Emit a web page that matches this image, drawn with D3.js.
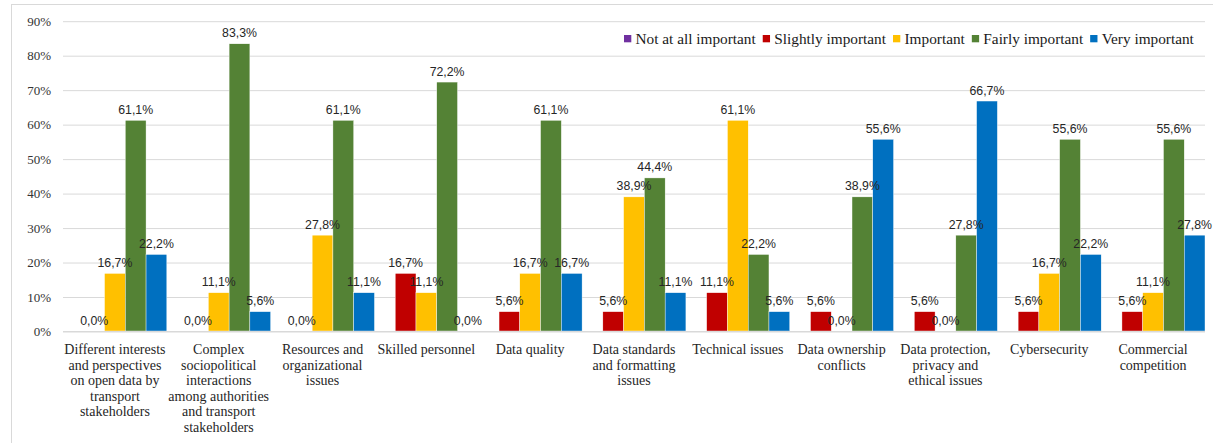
<!DOCTYPE html>
<html><head><meta charset="utf-8">
<script src="https://cdn.jsdelivr.net/npm/d3@7"></script>
<style>html,body{margin:0;padding:0;background:#fff;} svg{display:block;}</style>
</head><body>
<svg id="chart" width="1213" height="443"></svg>
<script>
const categories = [
  "Different interests\nand perspectives\non open data by\ntransport\nstakeholders",
  "Complex\nsociopolitical\ninteractions\namong authorities\nand transport\nstakeholders",
  "Resources and\norganizational\nissues",
  "Skilled personnel",
  "Data quality",
  "Data standards\nand formatting\nissues",
  "Technical issues",
  "Data ownership\nconflicts",
  "Data protection,\nprivacy and\nethical issues",
  "Cybersecurity",
  "Commercial\ncompetition"
];
const seriesNames = ["Not at all important","Slightly important","Important","Fairly important","Very important"];
const notAtAll   = [0,0,0,0,0,0,0,0,0,0,0];
const slightly   = [0,0,0,16.7,5.6,5.6,11.1,5.6,5.6,5.6,5.6];
const important  = [16.7,11.1,27.8,11.1,16.7,38.9,61.1,0,0,16.7,11.1];
const fairly     = [61.1,83.3,61.1,72.2,61.1,44.4,22.2,38.9,27.8,55.6,55.6];
const very       = [22.2,5.6,11.1,0,16.7,11.1,5.6,55.6,66.7,22.2,27.8];
const seriesValues = [notAtAll, slightly, important, fairly, very];
const seriesLabelled = [false, true, true, true, true];
const colors = ["#7030A0","#C00000","#FFC000","#548235","#0070C0"];
const yTicks = [0,10,20,30,40,50,60,70,80,90];

(function(){
const svg = d3.select("#chart");
const pLeft = 63, pRight = 1205, pTop = 20.7, pBottom = 331;

// frame
svg.append("rect").attr("x",11.5).attr("y",4.5).attr("width",1400).attr("height",600)
  .attr("fill","none").attr("stroke","#d9d9d9").attr("stroke-width",1);

const x0 = d3.scaleBand().domain(d3.range(categories.length)).range([pLeft,pRight]).paddingInner(0).paddingOuter(0);
const x1 = d3.scaleBand().domain(d3.range(seriesNames.length)).range([0,x0.bandwidth()]).padding(0);
const y = d3.scaleLinear().domain([0,90]).range([pBottom,pTop]);

// gridlines
const yAxis = d3.axisLeft(y).tickValues(yTicks).tickSize(-(pRight-pLeft)).tickFormat(d => d + "%");
const ga = svg.append("g").attr("transform",`translate(${pLeft},0)`).call(yAxis);
ga.select(".domain").remove();
ga.selectAll(".tick line").attr("stroke","#d9d9d9").attr("stroke-width",1)
  .attr("transform","translate(0,0.5)");
ga.selectAll(".tick text").attr("x",-12).attr("dy","0.35em")
  .attr("font-family","'Liberation Serif', serif").attr("font-size",13).attr("fill","#333");

// bars
const groups = svg.append("g").selectAll("g").data(categories).join("g")
  .attr("transform",(d,i)=>`translate(${x0(i)},0)`);
groups.each(function(c,ci){
  const g = d3.select(this);
  seriesValues.forEach((vals,si)=>{
    const v = vals[ci];
    if (v > 0) {
      g.append("rect").attr("x",x1(si)).attr("width",x1.bandwidth())
        .attr("y",y(v)).attr("height",y(0)-y(v))
        .attr("fill",colors[si]).attr("stroke","#fff").attr("stroke-width",0.4);
    }
  });
});
// baseline
svg.append("line").attr("x1",pLeft).attr("x2",pRight).attr("y1",pBottom+0.5).attr("y2",pBottom+0.5)
  .attr("stroke","#d9d9d9").attr("stroke-width",1);

// data labels
const fmt = v => v.toFixed(1).replace(".",",") + "%";
groups.each(function(c,ci){
  const g = d3.select(this);
  seriesValues.forEach((vals,si)=>{
    if (!seriesLabelled[si]) return;
    const v = vals[ci];
    g.append("text").attr("x",x1(si)+x1.bandwidth()/2).attr("y",y(v)-6.5)
      .attr("text-anchor","middle").attr("font-family","'Liberation Sans', Arial, sans-serif")
      .attr("font-size",12.3).attr("fill","#262626").text(fmt(v));
  });
});

// category labels
groups.each(function(c,ci){
  const t = d3.select(this).append("text").attr("text-anchor","middle")
    .attr("font-family","'Liberation Serif', serif").attr("font-size",14).attr("fill","#262626");
  c.split("\n").forEach((line,li)=>{
    t.append("tspan").attr("x",x0.bandwidth()/2).attr("y",pBottom+23 + li*15.5).text(line);
  });
});

// legend
const lg = svg.append("g");
let lx = 624;
seriesNames.forEach((n,i)=>{
  lg.append("rect").attr("x",lx).attr("y",35).attr("width",7.3).attr("height",7.3).attr("fill",colors[i]);
  const t = lg.append("text").attr("x",lx+11.5).attr("y",43.5)
    .attr("font-family","'Liberation Serif', serif").attr("font-size",15.3).attr("fill","#1a1a1a").text(n);
  lx += 11.5 + t.node().getComputedTextLength() + 7;
});
})();
</script>
</body></html>
